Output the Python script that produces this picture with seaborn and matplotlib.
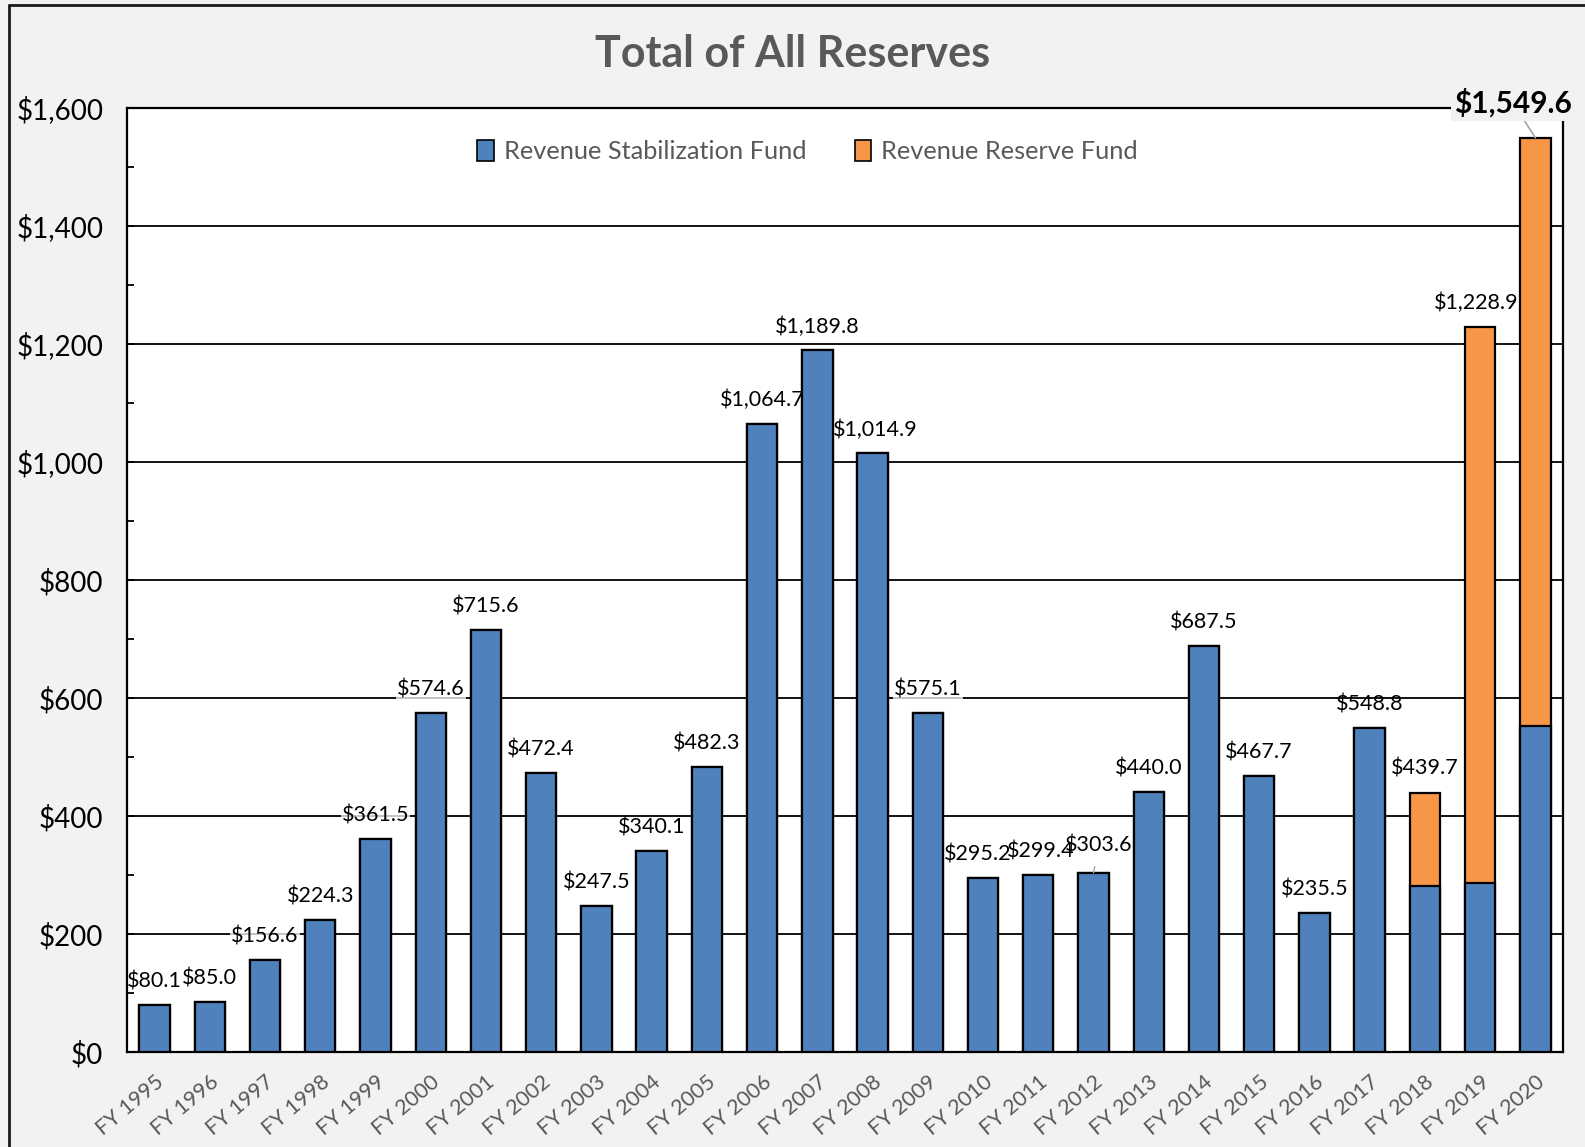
import pandas as pd
import numpy as np
import matplotlib.pyplot as plt
import seaborn as sns
from matplotlib.patches import Patch
from matplotlib.lines import Line2D

years = ["FY 1995", "FY 1996", "FY 1997", "FY 1998", "FY 1999", "FY 2000", "FY 2001",
         "FY 2002", "FY 2003", "FY 2004", "FY 2005", "FY 2006", "FY 2007", "FY 2008",
         "FY 2009", "FY 2010", "FY 2011", "FY 2012", "FY 2013", "FY 2014", "FY 2015",
         "FY 2016", "FY 2017", "FY 2018", "FY 2019", "FY 2020"]
stabilization = [80.1, 85.0, 156.6, 224.3, 361.5, 574.6, 715.6, 472.4, 247.5, 340.1, 482.3,
                 1064.7, 1189.8, 1014.9, 575.1, 295.2, 299.4, 303.6, 440.0, 687.5, 467.7,
                 235.5, 548.8, 282.0, 286.0, 552.0]
reserve = [0.0] * 23 + [157.7, 942.9, 997.6]
y_ticks = [0, 200, 400, 600, 800, 1000, 1200, 1400, 1600]

# label nudges (points) for the data labels
label_dx = [0] * 26
label_dx[13] = 2
label_dx[15] = -4
label_dx[16] = 2
label_dx[17] = 4
label_dx[24] = -3
# labels sitting on a gridline get a faded white box behind them
boxed = {2, 4, 5, 9, 14}

BLUE = "#4f81bd"
ORANGE = "#f79646"
GRAY = "#595959"

df = pd.DataFrame({"year": years, "stab": stabilization, "reserve": reserve})
df["total"] = df["stab"] + df["reserve"]

sns.set_theme(style="white")
plt.rcParams["font.family"] = ["Lato", "DejaVu Sans"]

fig = plt.figure(figsize=(15.85, 11.47), dpi=100, facecolor="#f2f2f2")
ax = fig.add_axes([0.0801, 0.0828, 0.9060, 0.8230])
ax.set_facecolor("white")

sns.barplot(data=df, x="year", y="total", color=ORANGE, saturation=1, width=0.55,
            edgecolor="black", linewidth=1.6, ax=ax, zorder=3)
sns.barplot(data=df, x="year", y="stab", color=BLUE, saturation=1, width=0.55,
            edgecolor="black", linewidth=1.6, ax=ax, zorder=3)

ax.set_xlim(-0.5, len(years) - 0.5)
ax.set_ylim(0, 1600)
ax.set_yticks(y_ticks)
ax.set_yticklabels([f"${v:,.0f}" for v in y_ticks], fontsize=20, color="black")
ax.set_yticks(np.arange(100, 1600, 200), minor=True)
ax.yaxis.grid(True, color="black", linewidth=1.3, zorder=0)
ax.set_axisbelow(True)

ax.set_xticks(range(len(years)))
ax.set_xticklabels(years, rotation=40, ha="right", rotation_mode="anchor",
                   fontsize=15.5, color=GRAY)
ax.set_xticks(np.arange(0.5, len(years) - 1, 1), minor=True)
ax.tick_params(axis="x", which="major", length=0, pad=14)
ax.tick_params(axis="x", which="minor", direction="in", length=6, width=1.3, color="black")
ax.tick_params(axis="y", which="both", direction="in", length=5, width=1.3,
               color="black", left=True, pad=17)
ax.set_xlabel("")
ax.set_ylabel("")
for s in ax.spines.values():
    s.set_color("black")
    s.set_linewidth(1.6)

# data labels
for i, row in df.iterrows():
    txt = f"${row['total']:,.1f}"
    box = None
    if i in boxed:
        box = dict(boxstyle="square,pad=0.05", fc="white", ec="none", alpha=0.75)
    if i == len(df) - 1:
        ax.annotate(txt, xy=(i, row["total"]), xytext=(-16, 25), textcoords="offset points",
                    ha="center", va="center", fontsize=21.5, fontweight="bold", color="black",
                    bbox=dict(boxstyle="square,pad=0.1", fc="#f2f2f2", ec="none"),
                    arrowprops=dict(arrowstyle="-", color="#a6a6a6", lw=1.2,
                                    shrinkA=0, shrinkB=0),
                    annotation_clip=False, zorder=5)
    elif i == 17:
        ax.annotate(txt, xy=(i, row["total"]), xytext=(label_dx[i], 20),
                    textcoords="offset points", ha="center", va="center", fontsize=15.5,
                    color="black", bbox=box,
                    arrowprops=dict(arrowstyle="-", color="#a6a6a6", lw=1.0,
                                    shrinkA=6, shrinkB=0), zorder=5)
    else:
        ax.annotate(txt, xy=(i, row["total"]), xytext=(label_dx[i], 17),
                    textcoords="offset points", ha="center", va="center", fontsize=15.5,
                    color="black", bbox=box, zorder=5)

handles = [Patch(facecolor=BLUE, edgecolor="black", linewidth=1.2, label="Revenue Stabilization Fund"),
           Patch(facecolor=ORANGE, edgecolor="black", linewidth=1.2, label="Revenue Reserve Fund")]
leg = ax.legend(handles=handles, loc="upper center", bbox_to_anchor=(0.474, 0.99), ncol=2,
                frameon=False, fontsize=18.3, handlelength=0.65, handleheight=0.85,
                handletextpad=0.4, columnspacing=1.9)
for t in leg.get_texts():
    t.set_color(GRAY)

fig.text(0.5, 0.953, "Total of All Reserves", ha="center", va="center", fontsize=31,
         fontweight="bold", color=GRAY)

# outer chart border (top and left visible)
fig.add_artist(Line2D([9 / 1585, 1], [1 - 5 / 1147, 1 - 5 / 1147], color="#1a1a1a", lw=2,
                      transform=fig.transFigure))
fig.add_artist(Line2D([9 / 1585, 9 / 1585], [0, 1 - 5 / 1147], color="#1a1a1a", lw=2,
                      transform=fig.transFigure))

fig.savefig("out.png", dpi=100, facecolor=fig.get_facecolor())
